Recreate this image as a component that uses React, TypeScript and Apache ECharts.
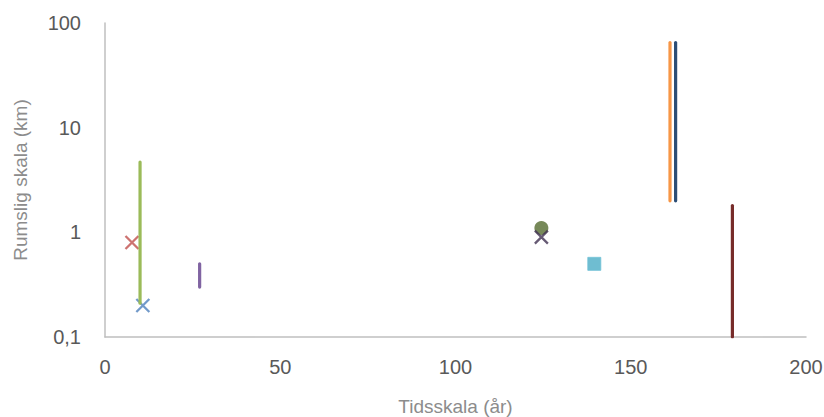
import React, { useEffect, useRef } from "react";
import * as echarts from "echarts";

// Vertical range series: [x, yLow, yHigh]
const greenRange: number[] = [10, 0.21, 4.7];
const purpleRange: number[] = [27, 0.3, 0.5];
const orangeRange: number[] = [161.2, 2, 65];
const navyRange: number[] = [162.8, 2, 65];
const darkRedRange: number[] = [179, 0.1, 1.8];

// Point series: [x, y]
const redCross: number[][] = [[7.7, 0.8]];
const blueCross: number[][] = [[10.8, 0.2]];
const oliveCircle: number[][] = [[124.5, 1.1]];
const plumCross: number[][] = [[124.5, 0.9]];
const tealSquare: number[][] = [[139.6, 0.5]];

const xTicks = { min: 0, max: 200, interval: 50 };
const yTicks = { min: 0.1, max: 100 };

const FONT = "Liberation Sans";
const CROSS = "path://M0,0L10,10M10,0L0,10";

function rangeSeries(r: number[], color: string) {
  return {
    type: "line",
    data: [
      [r[0], r[1]],
      [r[0], r[2]],
    ],
    showSymbol: false,
    symbol: "none",
    lineStyle: { color, width: 3.2, cap: "round" },
    silent: true,
  };
}

function crossSeries(d: number[][], color: string) {
  return {
    type: "scatter",
    data: d,
    symbol: CROSS,
    symbolSize: 13,
    itemStyle: { color: "transparent", borderColor: color, borderWidth: 2.3 },
  };
}

export default function App() {
  const ref = useRef<HTMLDivElement>(null);
  useEffect(() => {
    if (!ref.current) return;
    const chart = echarts.init(ref.current, undefined, { renderer: "svg" });
    chart.setOption({
      animation: false,
      backgroundColor: "#ffffff",
      grid: {
        left: 105,
        right: 18,
        top: 23,
        bottom: 80,
        containLabel: false,
        outerBoundsMode: "none",
      },
      xAxis: {
        type: "value",
        min: xTicks.min,
        max: xTicks.max,
        interval: xTicks.interval,
        name: "Tidsskala (år)",
        nameLocation: "middle",
        nameGap: 60,
        nameTextStyle: { color: "#8c8c8c", fontSize: 19, fontFamily: FONT },
        axisLine: { show: true, lineStyle: { color: "#bfbfbf", width: 1.5 } },
        axisTick: { show: false },
        splitLine: { show: false },
        axisLabel: { color: "#595959", fontSize: 20, fontFamily: FONT, margin: 20 },
      },
      yAxis: {
        type: "log",
        logBase: 10,
        min: yTicks.min,
        max: yTicks.max,
        name: "Rumslig skala (km)",
        nameLocation: "middle",
        nameGap: 75,
        nameTextStyle: { color: "#8c8c8c", fontSize: 19, fontFamily: FONT },
        axisLine: { show: true, lineStyle: { color: "#bfbfbf", width: 1.5 } },
        axisTick: { show: false },
        splitLine: { show: false },
        axisLabel: {
          color: "#595959",
          fontSize: 20,
          fontFamily: FONT,
          margin: 24,
          formatter: (v: number) => String(Number(v.toPrecision(6))).replace(".", ","),
        },
      },
      series: [
        rangeSeries(greenRange, "#9bbb59"),
        rangeSeries(purpleRange, "#8064a2"),
        rangeSeries(orangeRange, "#f79646"),
        rangeSeries(navyRange, "#2c4d75"),
        rangeSeries(darkRedRange, "#772c2a"),
        crossSeries(redCross, "#c0504d"),
        crossSeries(blueCross, "#4f81bd"),
        {
          type: "scatter",
          data: oliveCircle,
          symbol: "circle",
          symbolSize: 14,
          itemStyle: { color: "#556b2f" },
        },
        crossSeries(plumCross, "#403151"),
        {
          type: "scatter",
          data: tealSquare,
          symbol: "rect",
          symbolSize: 13,
          itemStyle: { color: "#4bacc6", borderColor: "#6fc1d6", borderWidth: 1 },
        },
      ],
    });
    return () => chart.dispose();
  }, []);
  return (
    <div
      ref={ref}
      style={{ position: "fixed", left: 0, top: 0, width: 824, height: 417 }}
    />
  );
}
